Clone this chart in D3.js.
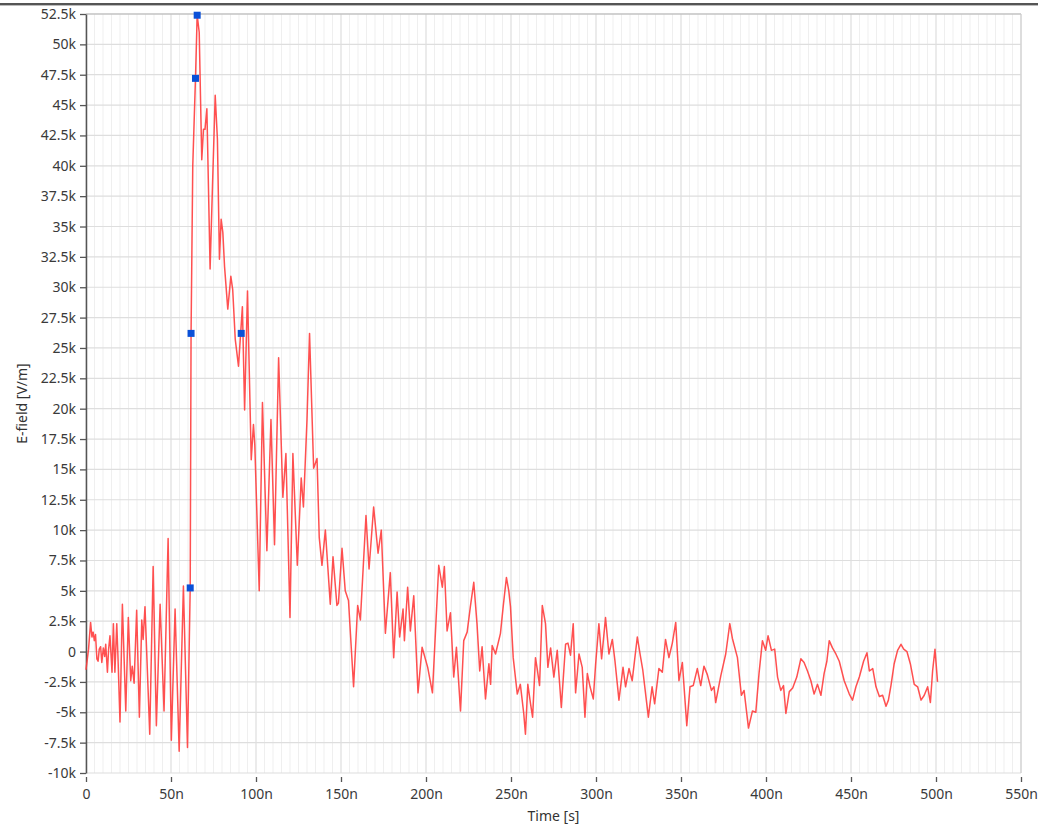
<!DOCTYPE html>
<html>
<head>
<meta charset="utf-8">
<script src="https://cdn.jsdelivr.net/npm/d3@7"></script>
<style>
  body { margin: 0; background: #fff; }
  text { font-family: "Noto Sans", "Open Sans", sans-serif; }
</style>
</head>
<body>
<div id="chart"></div>
<script>
// time in ns, field in kV/m (turning points)
const times = [0,0.8,1.5,2.7,3.5,4.2,4.9,5.6,6.4,7.1,7.8,8.6,9.3,10.2,11.0,11.6,12.6,13.3,14.1,15.3,16.1,17.0,18.1,18.8,20.0,21.4,23.4,24.9,26.3,27.2,28.3,29.8,31.4,32.8,33.6,34.7,37.5,39.5,41.4,43.6,45.9,48.3,50.2,52.4,54.8,57.3,59.7,61.3,61.8,62.8,64.4,65.4,66.6,67.3,68.1,69.1,70.0,71.1,73.0,74.4,76.0,77.3,78.5,79.5,80.5,81.5,83.4,85.2,86.3,87.8,89.7,92.0,93.3,95.0,97.2,98.5,99.3,101.9,103.8,106.4,108.8,110.9,113.3,115.8,117.6,120.0,121.7,124.3,126.6,127.9,130.0,131.5,133.9,135.9,137.2,138.8,140.8,143.7,145.3,147.6,148.5,150.6,152.5,154.4,157.4,159.8,161.4,164.7,166.5,169.2,171.8,173.7,176.1,179.0,181.0,183.0,184.5,186.5,187.3,189.2,190.8,192.8,195.3,197.7,201.0,203.8,207.5,209.6,210.8,212.4,214.4,216.3,217.9,220.3,222.2,224.2,226.1,228.1,230.0,231.6,233.0,235.0,237.0,238.0,238.9,240.9,243.8,245.4,247.3,248.7,249.7,251.3,253.7,255.5,257.5,258.5,259.9,261.5,262.7,264.4,265.4,266.8,268.4,270.3,271.7,273.3,275.2,277.2,279.6,282.1,283.5,285.0,286.6,288.0,290.0,291.9,293.5,294.9,296.5,298.4,299.8,301.7,303.3,305.6,307.6,309.6,311.1,313.5,315.9,317.4,319.4,321.3,322.7,324.3,325.9,327.5,330.8,333.0,334.5,337.0,339.0,340.9,342.9,344.9,346.9,348.8,350.8,353.4,355.3,357.2,359.6,361.6,363.5,365.5,367.9,369.4,370.4,373.4,376.3,378.7,380.2,383.2,385.5,387.1,389.7,392.0,394.0,395.9,397.9,399.8,401.2,403.2,405.1,406.8,408.7,410.3,411.7,413.7,415.7,418.1,420.5,422.4,424.4,426.4,428.3,430.3,432.3,434.2,435.8,437.2,439.1,441.1,443.1,446.0,449.0,450.9,452.9,454.9,457.4,459.4,460.8,462.8,464.7,466.7,468.6,470.6,472.0,473.5,475.4,477.4,479.4,481.0,482.9,484.9,487.2,489.2,491.2,493.1,495.1,496.7,498.0,499.4,500.9];
const field = [-1.5,-0.6,0.2,2.4,1.2,1.6,0.9,1.4,-0.6,-0.8,0.2,0.4,-0.9,0.3,-0.4,0.6,-1.7,0.2,1.3,-1.7,2.3,-1.7,2.3,-0.4,-5.8,3.9,-4.9,2.8,-2.4,-1.2,-2.6,3.4,-5.4,2.6,1.0,3.7,-6.8,7.0,-6.1,3.9,-4.9,9.3,-7.3,3.5,-8.2,5.4,-7.9,5.3,26.2,40.0,47.2,52.4,51.0,46.0,40.5,43.0,43.0,44.7,31.5,38.3,45.8,42.2,32.3,35.6,34.5,31.7,28.2,30.9,29.8,25.7,23.5,28.4,19.9,29.7,15.8,18.7,17.0,5.0,20.5,8.3,19.1,8.8,24.2,12.7,16.3,2.8,16.3,7.1,14.3,11.9,19.1,26.2,15.1,15.9,9.4,7.1,10.0,3.9,7.8,3.8,4.0,8.5,5.0,4.2,-2.9,3.8,2.6,11.2,6.8,11.9,8.1,10.0,1.5,6.5,-0.5,4.9,1.2,3.5,0.9,5.3,1.7,4.6,-3.4,0.35,-1.3,-3.4,7.1,5.3,7.0,1.7,3.2,-2.1,0.35,-4.9,0.9,1.6,3.7,5.7,2.3,-1.6,0.4,-3.9,-1.0,-2.7,0.5,-0.2,1.5,3.7,6.1,5.0,3.7,-0.5,-3.5,-2.7,-5.1,-6.8,-2.7,-4.3,-5.4,-0.5,-1.4,-2.8,3.8,2.3,-1.3,0.3,-2.1,0.1,-4.6,0.6,0.7,-0.3,2.3,-3.4,-0.2,-1.3,-5.4,-1.8,-2.9,-3.9,-1.0,2.3,-0.6,2.8,-0.2,1.0,-0.7,-4.0,-1.3,-2.9,-1.4,-2.4,-0.7,1.2,-0.2,-1.5,-5.4,-2.9,-4.3,-1.4,-1.7,1.0,-0.5,0.7,2.4,-2.4,-0.9,-6.1,-2.9,-2.8,-1.4,-2.8,-1.2,-1.9,-3.2,-2.9,-4.2,-2.0,-0.2,2.3,1.1,-0.5,-3.6,-3.2,-6.3,-4.9,-5.0,-1.8,0.9,0.1,1.3,0.1,0.2,-2.1,-3.2,-2.8,-5.1,-3.3,-3.0,-2.1,-0.6,-0.9,-1.6,-2.4,-3.5,-2.7,-3.6,-1.8,-0.8,0.9,0.3,-0.2,-0.8,-2.4,-3.5,-4.0,-2.9,-2.1,-0.8,-0.1,-1.6,-1.4,-2.9,-3.7,-3.6,-4.5,-4.0,-2.8,-1.0,0.1,0.6,0.2,0.0,-1.0,-2.7,-2.9,-4.0,-3.6,-2.9,-4.2,-1.6,0.2,-2.5];

// 10/50/90/100 % rise points and 50 % fall point
const markerTimes = [61.3, 61.8, 64.4, 65.4, 91.3];
const markerField = [5.24, 26.2, 47.2, 52.4, 26.2];

const xTickValues = [0, 50, 100, 150, 200, 250, 300, 350, 400, 450, 500, 550];
const xTickLabels = ["0", "50n", "100n", "150n", "200n", "250n", "300n", "350n", "400n", "450n", "500n", "550n"];
const yTickValues = [-10, -7.5, -5, -2.5, 0, 2.5, 5, 7.5, 10, 12.5, 15, 17.5, 20, 22.5, 25, 27.5, 30, 32.5, 35, 37.5, 40, 42.5, 45, 47.5, 50, 52.5];
const yTickLabels = ["-10k", "-7.5k", "-5k", "-2.5k", "0", "2.5k", "5k", "7.5k", "10k", "12.5k", "15k", "17.5k", "20k", "22.5k", "25k", "27.5k", "30k", "32.5k", "35k", "37.5k", "40k", "42.5k", "45k", "47.5k", "50k", "52.5k"];

const W = 1038, H = 828;
const margin = { top: 14, right: 17, bottom: 55, left: 86 };
const width = W - margin.left - margin.right;
const height = H - margin.top - margin.bottom;

const root = d3.select('#chart').append('svg')
  .attr('width', W)
  .attr('height', H);

// window frame line on top
root.append('rect').attr('x', 0).attr('y', 3).attr('width', W).attr('height', 2).attr('fill', '#555');
root.append('rect').attr('x', 0).attr('y', 5).attr('width', W).attr('height', 1).attr('fill', '#bbb');

const svg = root.append('g')
  .attr('transform', `translate(${margin.left},${margin.top})`);

const x = d3.scaleLinear().domain([0, 550]).range([0, width]);
const y = d3.scaleLinear().domain([-10, 52.5]).range([height, 0]);

// minor vertical grid every 5n
svg.append('g')
  .selectAll('line')
  .data(d3.range(0, 551, 5).filter(d => d % 50 !== 0))
  .enter().append('line')
  .attr('x1', d => x(d)).attr('x2', d => x(d))
  .attr('y1', 0).attr('y2', height)
  .attr('stroke', '#efefef').attr('stroke-width', 1);

// major grid
svg.append('g')
  .selectAll('line')
  .data(xTickValues)
  .enter().append('line')
  .attr('x1', d => x(d)).attr('x2', d => x(d))
  .attr('y1', 0).attr('y2', height)
  .attr('stroke', '#dedede').attr('stroke-width', 1.2);

svg.append('g')
  .selectAll('line')
  .data(yTickValues)
  .enter().append('line')
  .attr('x1', 0).attr('x2', width)
  .attr('y1', d => y(d)).attr('y2', d => y(d))
  .attr('stroke', '#dedede').attr('stroke-width', 1.2);

// plot frame (top/right)
svg.append('line').attr('x1', 0).attr('x2', width).attr('y1', 0).attr('y2', 0)
  .attr('stroke', '#b5b5b5');
svg.append('line').attr('x1', width).attr('x2', width).attr('y1', 0).attr('y2', height)
  .attr('stroke', '#cfcfcf');

// axes
const yAxis = d3.axisLeft(y)
  .tickValues(yTickValues)
  .tickFormat((d, i) => yTickLabels[i])
  .tickSize(6).tickSizeOuter(0).tickPadding(4);

const xAxis = d3.axisBottom(x)
  .tickValues(xTickValues)
  .tickFormat((d, i) => xTickLabels[i])
  .tickSize(5).tickSizeOuter(0).tickPadding(7);

const gy = svg.append('g').call(yAxis);
gy.select('.domain').attr('stroke', '#555').attr('stroke-width', 1.5);
gy.selectAll('.tick line').attr('stroke', '#555').attr('stroke-width', 1.3);
gy.selectAll('.tick text').attr('fill', '#3a3a3a').style('font-size', '14px');

const gx = svg.append('g')
  .attr('transform', `translate(0,${height + 4})`)
  .call(xAxis);
gx.select('.domain').remove();
gx.selectAll('.tick line').attr('stroke', '#555').attr('stroke-width', 1.3);
gx.selectAll('.tick text').attr('fill', '#3a3a3a').style('font-size', '14px');

// trace
const data = times.map((t, i) => ({ t: t, v: field[i] }));
const line = d3.line()
  .x(d => x(d.t))
  .y(d => y(d.v));

svg.append('path')
  .datum(data)
  .attr('fill', 'none')
  .attr('stroke', '#ff3d3d')
  .attr('stroke-width', 1.5)
  .attr('stroke-opacity', 0.9)
  .attr('stroke-linejoin', 'round')
  .attr('d', line);

// markers
svg.append('g')
  .selectAll('rect')
  .data(markerTimes.map((t, i) => ({ t: t, v: markerField[i] })))
  .enter().append('rect')
  .attr('x', d => x(d.t) - 3.5)
  .attr('y', d => y(d.v) - 3.5)
  .attr('width', 7).attr('height', 7)
  .attr('fill', '#0a50d8');

// axis titles
svg.append('text')
  .attr('x', width / 2)
  .attr('y', height + 48)
  .attr('text-anchor', 'middle')
  .attr('fill', '#333')
  .style('font-size', '14px')
  .text('Time [s]');

svg.append('text')
  .attr('transform', `translate(${-59},${height / 2 + 10}) rotate(-90)`)
  .attr('text-anchor', 'middle')
  .attr('fill', '#333')
  .style('font-size', '14px')
  .text('E-field [V/m]');
</script>
</body>
</html>
